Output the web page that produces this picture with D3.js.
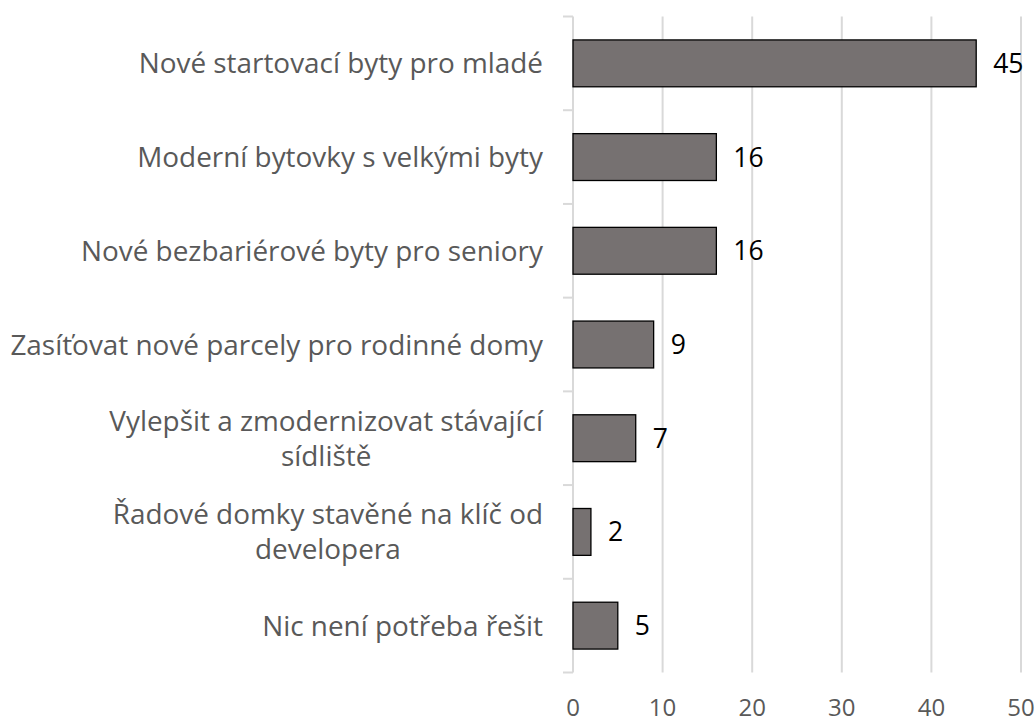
<!DOCTYPE html>
<html>
<head>
<meta charset="utf-8">
<script src="https://cdn.jsdelivr.net/npm/d3@7"></script>
<style>
  body { margin: 0; background: #fff; }
  svg { display: block; }
</style>
</head>
<body>
<svg id="chart"></svg>
<script>
// data, top to bottom
var categories = [
    ["Nové startovací byty pro mladé"],
    ["Moderní bytovky s velkými byty"],
    ["Nové bezbariérové byty pro seniory"],
    ["Zasíťovat nové parcely pro rodinné domy"],
    ["Vylepšit a zmodernizovat stávající", "sídliště"],
    ["Řadové domky stavěné na klíč od", "developera"],
    ["Nic není potřeba řešit"]
];
var values = [45, 16, 16, 9, 7, 2, 5];
var xTicks = [0, 10, 20, 30, 40, 50];

var width = 1036, height = 718;
var plotLeft = 573, plotRight = 1021, plotTop = 16.5, plotBottom = 672.5;
var fontFam = "'Open Sans', 'Liberation Sans', sans-serif";

var svg = d3.select("#chart")
    .attr("width", width)
    .attr("height", height);

var x = d3.scaleLinear().domain([0, 50]).range([plotLeft, plotRight]);
var y = d3.scaleBand()
    .domain(d3.range(categories.length))
    .range([plotTop, plotBottom])
    .paddingInner(0.5)
    .paddingOuter(0.25);

// gridlines
svg.append("g")
    .selectAll("line")
    .data(xTicks.slice(1))
    .enter().append("line")
    .attr("x1", function(d) { return x(d); })
    .attr("x2", function(d) { return x(d); })
    .attr("y1", plotTop)
    .attr("y2", plotBottom)
    .style("stroke", "#d9d9d9")
    .style("stroke-width", 2);

// category axis (line + tick marks between bands)
var step = y.step();
var yAxis = svg.append("g").style("stroke", "#d9d9d9").style("stroke-width", 2);
yAxis.append("line")
    .attr("x1", plotLeft).attr("x2", plotLeft)
    .attr("y1", plotTop).attr("y2", plotBottom);
yAxis.selectAll("line.tick")
    .data(d3.range(categories.length + 1))
    .enter().append("line")
    .attr("class", "tick")
    .attr("x1", plotLeft - 10).attr("x2", plotLeft)
    .attr("y1", function(i) { return plotTop + i * step; })
    .attr("y2", function(i) { return plotTop + i * step; });

// bars
svg.append("g")
    .selectAll("rect")
    .data(values)
    .enter().append("rect")
    .attr("x", x(0))
    .attr("y", function(d, i) { return y(i); })
    .attr("width", function(d) { return x(d) - x(0); })
    .attr("height", y.bandwidth())
    .style("fill", "#767171")
    .style("stroke", "#000")
    .style("stroke-width", 1.3);

// value labels
svg.append("g")
    .selectAll("text")
    .data(values)
    .enter().append("text")
    .attr("x", function(d) { return x(d) + 17; })
    .attr("y", function(d, i) { return y(i) + y.bandwidth() / 2; })
    .attr("dy", "0.36em")
    .style("font-family", fontFam)
    .style("font-size", "26.5px")
    .style("fill", "#000")
    .text(function(d) { return d; });

// category labels, wrapped lines centred on the widest line
var labels = svg.append("g")
    .selectAll("text")
    .data(categories)
    .enter().append("text")
    .style("font-family", fontFam)
    .style("font-size", "27.9px")
    .style("fill", "#595959");

labels.each(function(lines, i) {
    var self = d3.select(this);
    var rightEdge = 543;
    var cy = y(i) + y.bandwidth() / 2;
    var lh = 35;
    var y0 = cy - (lines.length - 1) * lh / 2;
    var spans = lines.map(function(t, k) {
        return self.append("tspan")
            .attr("y", y0 + k * lh)
            .attr("dy", "0.36em")
            .text(t);
    });
    var w = d3.max(spans, function(s) { return s.node().getComputedTextLength(); });
    self.attr("text-anchor", "middle");
    spans.forEach(function(s) { s.attr("x", rightEdge - w / 2); });
});

// x tick labels
svg.append("g")
    .selectAll("text")
    .data(xTicks)
    .enter().append("text")
    .attr("x", function(d) { return x(d); })
    .attr("y", 716)
    .attr("text-anchor", "middle")
    .style("font-family", fontFam)
    .style("font-size", "24px")
    .style("fill", "#595959")
    .text(function(d) { return d; });
</script>
</body>
</html>
